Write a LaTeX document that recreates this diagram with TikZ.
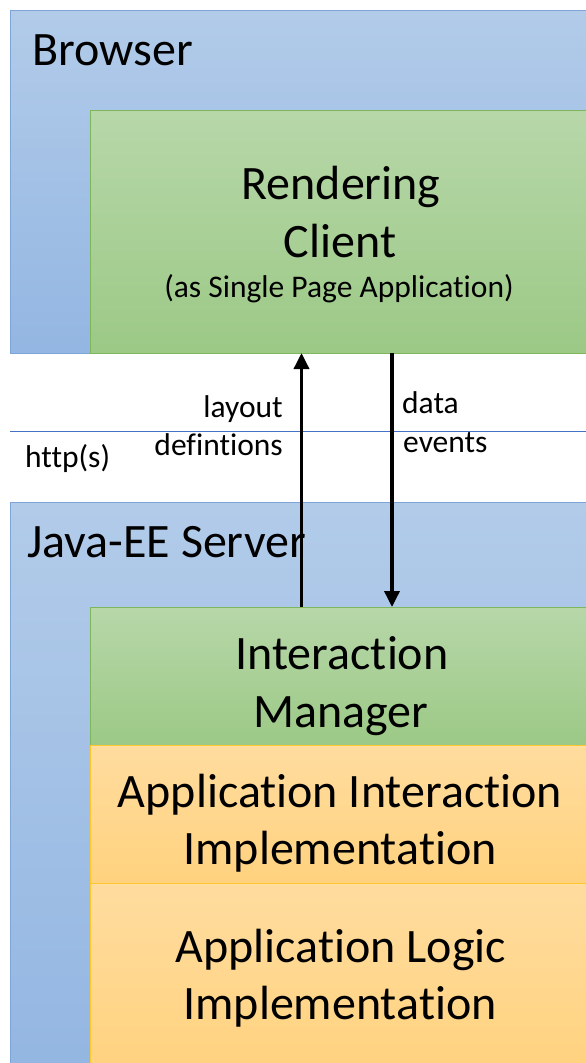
\documentclass[tikz,border=0pt]{standalone}
\usepackage{fontspec}
\setmainfont{Carlito}[Ligatures={NoCommon,NoContextual,NoRare}]
\usetikzlibrary{arrows.meta}
\definecolor{blueT}{HTML}{B2CBE9}
\definecolor{blueB}{HTML}{93B6E2}
\definecolor{blueD}{HTML}{7DA5D9}
\definecolor{greenT}{HTML}{B7D7A9}
\definecolor{greenB}{HTML}{9CC986}
\definecolor{greenD}{HTML}{7DB65B}
\definecolor{orangeT}{HTML}{FFDC9F}
\definecolor{orangeB}{HTML}{FFD27E}
\definecolor{orangeD}{HTML}{FFC62E}
\definecolor{lineB}{HTML}{4472C4}
\begin{document}
\begin{tikzpicture}[x=1pt,y=-1pt,
  box/.style={rectangle, inner sep=0pt, outer sep=0pt, anchor=north west, line width=1pt},
  bluebox/.style={box, draw=blueD, top color=blueT, bottom color=blueB},
  greenbox/.style={box, draw=greenD, top color=greenT, bottom color=greenB},
  orangebox/.style={box, draw=orangeD, top color=orangeT, bottom color=orangeB},
  big/.style={font=\fontsize{48}{57}\selectfont, inner sep=0pt},
  small/.style={font=\fontsize{31.5}{38}\selectfont, inner sep=0pt},
  arr/.style={line width=3.5pt, -{Triangle[length=16pt,width=15pt]}}]
\useasboundingbox (0,0) rectangle (586,1063);
% boxes
\node[bluebox, minimum width=582pt, minimum height=343pt] (browser) at (10,10) {};
\node[greenbox, minimum width=502pt, minimum height=243pt] (render) at (90,110) {};
\node[bluebox, minimum width=582pt, minimum height=570pt] (server) at (10,502) {};
\node[greenbox, minimum width=502pt, minimum height=138pt] (im) at (90,607) {};
\node[orangebox, minimum width=502pt, minimum height=138pt] (aii) at (90,745) {};
\node[orangebox, minimum width=502pt, minimum height=190pt] (ali) at (90,883) {};
% http line
\coordinate (hl) at (10,431);
\coordinate (hr) at (592,431);
\draw[lineB, line width=0.9pt] (hl) -- (hr);
% texts
\node[big, anchor=base west] (tbrowser) at (32,65) {Browser};
\node[big, anchor=base] (t1) at (341,199) {Rendering};
\node[big, anchor=base] (t2) at (340,257) {Client};
\node[small, anchor=base] (t3) at (339,297) {(as Single Page Application)};
\node[big, anchor=base west] (tserver) at (27,557) {Java-EE Server};
\node[big, anchor=base] (t4) at (342,669) {Interaction};
\node[big, anchor=base] (t5) at (341,727) {Manager};
\node[big, anchor=base] (t6) at (340,807) {Application Interaction};
\node[big, anchor=base] (t7) at (340,864) {Implementation};
\node[big, anchor=base] (t8) at (341,962) {Application Logic};
\node[big, anchor=base] (t9) at (340,1019) {Implementation};
\node[small, anchor=base west] (http) at (25,467) {http(s)};
\node[small, anchor=base east] (l1) at (283,417) {layout};
\node[small, anchor=base east] (l2) at (283,455) {defintions};
\node[small, anchor=base west] (l3) at (402,413) {data};
\node[small, anchor=base west] (l4) at (403,452) {events};
% arrows
\coordinate (ux) at (301.5,0);
\coordinate (dx) at (392,0);
\draw[arr] (im.north -| ux) -- (render.south -| ux);
\draw[arr] (render.south -| dx) -- (im.north -| dx);
\end{tikzpicture}
\end{document}
